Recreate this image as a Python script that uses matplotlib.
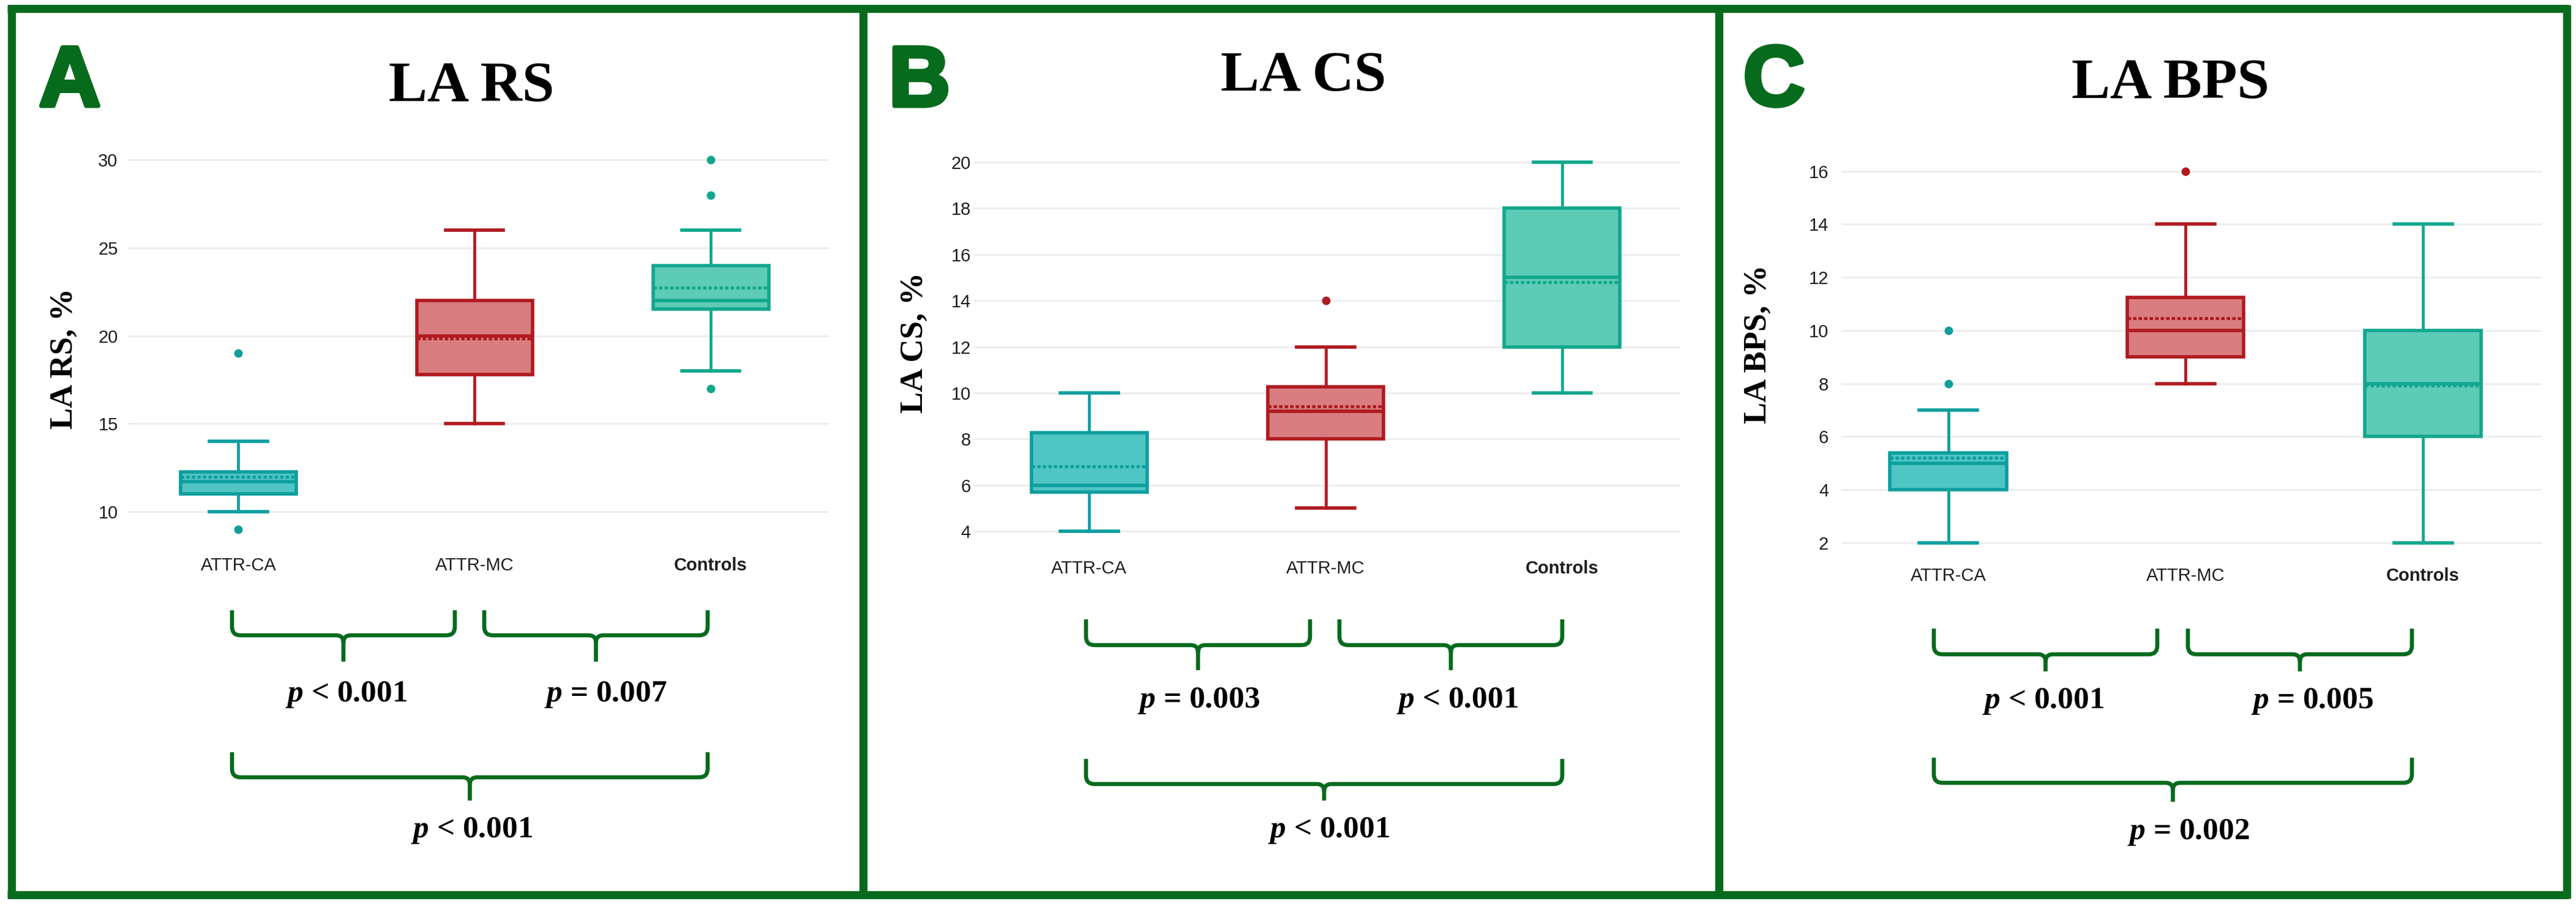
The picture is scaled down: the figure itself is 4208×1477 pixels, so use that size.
import numpy as np
import matplotlib
matplotlib.use('Agg')
import matplotlib.pyplot as plt
from matplotlib.path import Path
from matplotlib.patches import PathPatch
import matplotlib.patheffects as pe

# groups shown on every panel
groups = ['ATTR-CA', 'ATTR-MC', 'Controls']

# LA RS (panel A) box statistics
rs_lo = [10, 15, 18]
rs_q1 = [11.0, 17.8, 21.5]
rs_med = [11.7, 20.0, 22.0]
rs_q3 = [12.25, 22.0, 24.0]
rs_hi = [14, 26, 26]
rs_mean = [12.0, 19.85, 22.75]
rs_out = [[19, 9], [], [30, 28, 17]]
rs_ticks = [10, 15, 20, 25, 30]
rs_p = ['< 0.001', '= 0.007', '< 0.001']

# LA CS (panel B)
cs_lo = [4, 5, 10]
cs_q1 = [5.7, 8.0, 12.0]
cs_med = [6.0, 9.2, 15.0]
cs_q3 = [8.27, 10.27, 18.0]
cs_hi = [10, 12, 20]
cs_mean = [6.8, 9.4, 14.8]
cs_out = [[], [14], []]
cs_ticks = [4, 6, 8, 10, 12, 14, 16, 18, 20]
cs_p = ['= 0.003', '< 0.001', '< 0.001']

# LA BPS (panel C)
bps_lo = [2, 8, 2]
bps_q1 = [4.0, 9.0, 6.0]
bps_med = [5.0, 10.0, 8.0]
bps_q3 = [5.4, 11.25, 10.0]
bps_hi = [7, 14, 14]
bps_mean = [5.2, 10.45, 7.92]
bps_out = [[10, 8], [16], []]
bps_ticks = [2, 4, 6, 8, 10, 12, 14, 16]
bps_p = ['< 0.001', '= 0.005', '= 0.002']

W, H = 4208, 1477
green = '#066b1d'
edge_cols = ['#0e9e9e', '#b01a20', '#12a78c']
fill_cols = ['#4fc5c4', '#d97d80', '#5ecbb7']

plt.rcParams['mathtext.fontset'] = 'custom'
plt.rcParams['mathtext.it'] = 'Liberation Serif:italic:bold'
plt.rcParams['mathtext.rm'] = 'Liberation Serif:bold'

fig = plt.figure(figsize=(W / 100, H / 100), dpi=100)
fig.patch.set_facecolor('white')

# overlay in pixel coordinates for frames, titles, brackets
ov = fig.add_axes([0, 0, 1, 1])
ov.set_xlim(0, W)
ov.set_ylim(H, 0)
ov.axis('off')

# green frames
bw = 9.5
for y in [14, 1462]:
    ov.plot([12, 4196], [y, y], color=green, lw=bw, solid_capstyle='butt')
for x in [19, 1410, 2808, 4193]:
    ov.plot([x, x], [8, 1468], color=green, lw=bw, solid_capstyle='butt')


def brace(x0, x1, ytop, yh, ytip):
    xc = (x0 + x1) / 2
    r, c = 14, 12
    verts = [(x0, ytop), (x0, yh - r), (x0, yh), (x0 + r, yh),
             (xc - c, yh), (xc, yh), (xc, yh + c), (xc, ytip),
             (xc, yh + c), (xc, yh), (xc + c, yh),
             (x1 - r, yh), (x1, yh), (x1, yh - r), (x1, ytop)]
    codes = [Path.MOVETO, Path.LINETO, Path.CURVE3, Path.CURVE3,
             Path.LINETO, Path.CURVE3, Path.CURVE3, Path.LINETO,
             Path.MOVETO, Path.CURVE3, Path.CURVE3,
             Path.LINETO, Path.CURVE3, Path.CURVE3, Path.LINETO]
    ov.add_patch(PathPatch(Path(verts, codes), fill=False, edgecolor=green,
                           lw=4.8, capstyle='butt', joinstyle='round'))


panels = [
    dict(letter='A', title='LA RS', ylabel='LA RS, %',
         lo=rs_lo, q1=rs_q1, med=rs_med, q3=rs_q3, hi=rs_hi, mean=rs_mean, out=rs_out,
         ticks=rs_ticks, p=rs_p, box=(208, 1354, 218, 893.5), ylim=(8, 31.5), xlim=(-0.47, 2.50),
         ypad=11, letter_xy=(114, 173), title_xy=(770, 165), ylab_xy=(105, 586),
         braces=[(379, 743, 997, 1038, 1081), (791, 1156, 997, 1038, 1081), (379, 1156, 1229, 1270, 1308)],
         p_xy=[(566, 1146), (989, 1146), (771, 1368)]),
    dict(letter='B', title='LA CS', ylabel='LA CS, %',
         lo=cs_lo, q1=cs_q1, med=cs_med, q3=cs_q3, hi=cs_hi, mean=cs_mean, out=cs_out,
         ticks=cs_ticks, p=cs_p, box=(1590, 2745, 235, 898), ylim=(3.2, 20.8), xlim=(-0.49, 2.50),
         ypad=3, letter_xy=(1502, 173), title_xy=(2129, 148), ylab_xy=(1494, 560),
         braces=[(1774, 2140, 1012, 1054, 1095), (2188, 2552, 1012, 1054, 1095), (1774, 2552, 1240, 1281, 1308)],
         p_xy=[(1958, 1156), (2381, 1156), (2171, 1368)]),
    dict(letter='C', title='LA BPS', ylabel='LA BPS, %',
         lo=bps_lo, q1=bps_q1, med=bps_med, q3=bps_q3, hi=bps_hi, mean=bps_mean, out=bps_out,
         ticks=bps_ticks, p=bps_p, box=(3008, 4152, 245, 910), ylim=(1.47, 16.8), xlim=(-0.45, 2.50),
         ypad=15, letter_xy=(2898, 172), title_xy=(3545, 160), ylab_xy=(2872, 562),
         braces=[(3159, 3524, 1027, 1069, 1097), (3574, 3940, 1027, 1069, 1097), (3159, 3940, 1238, 1279, 1310)],
         p_xy=[(3338, 1157), (3777, 1157), (3575, 1371)]),
]

for pn in panels:
    l, r, t, b = pn['box']
    ax = fig.add_axes([l / W, 1 - b / H, (r - l) / W, (b - t) / H])
    ax.patch.set_visible(False)

    stats = []
    for i in range(3):
        stats.append(dict(whislo=pn['lo'][i], q1=pn['q1'][i], med=pn['med'][i],
                          q3=pn['q3'][i], whishi=pn['hi'][i], mean=pn['mean'][i],
                          fliers=pn['out'][i]))
    art = ax.bxp(stats, positions=[0, 1, 2], widths=0.49, patch_artist=True,
                 showmeans=True, meanline=True, showfliers=True)
    for i in range(3):
        ec, fc = edge_cols[i], fill_cols[i]
        art['boxes'][i].set(facecolor=fc, edgecolor=ec, linewidth=4.0, zorder=3)
        art['medians'][i].set(color=ec, linewidth=4.0, zorder=4)
        art['means'][i].set(color=ec, linewidth=3.6, linestyle=(0, (1.1, 0.7)), zorder=4)
        for k in (2 * i, 2 * i + 1):
            art['whiskers'][k].set(color=ec, linewidth=3.4, zorder=2)
            art['caps'][k].set(color=ec, linewidth=4.0, zorder=2)
        art['fliers'][i].set(marker='o', markersize=10, markerfacecolor=ec,
                             markeredgecolor='none', zorder=4)

    ax.set_xlim(*pn['xlim'])
    ax.set_ylim(*pn['ylim'])
    ax.set_yticks(pn['ticks'])
    ax.set_yticklabels([str(v) for v in pn['ticks']], fontsize=21,
                       family='Liberation Sans', color='#1e1e1e')
    ax.set_xticks([0, 1, 2])
    ax.set_xticklabels(groups, fontsize=21, family='Liberation Sans', color='#1e1e1e')
    ax.get_xticklabels()[2].set_fontweight('bold')
    ax.tick_params(axis='both', length=0)
    ax.tick_params(axis='y', pad=pn['ypad'])
    ax.tick_params(axis='x', pad=12)
    ax.grid(axis='y', color='#ececec', linewidth=2)
    ax.set_axisbelow(True)
    for s in ax.spines.values():
        s.set_visible(False)

    # panel letter, title and y label
    ov.text(*pn['letter_xy'], pn['letter'], ha='center', va='baseline', fontsize=100,
            fontweight='bold', family='Liberation Sans', color=green,
            path_effects=[pe.withStroke(linewidth=5, foreground=green)])
    ov.text(*pn['title_xy'], pn['title'], ha='center', va='baseline', fontsize=68,
            fontweight='bold', family='Liberation Serif', color='black')
    ov.text(*pn['ylab_xy'], pn['ylabel'], ha='center', va='center', rotation=90,
            fontsize=38, fontweight='bold', family='Liberation Serif', color='black')

    for bx in pn['braces']:
        brace(*bx)
    for (px, py), txt in zip(pn['p_xy'], pn['p']):
        ov.text(px, py, r'$p$ ' + txt, ha='center', va='baseline', fontsize=37,
                fontweight='bold', family='Liberation Serif', color='black')

fig.savefig('out.png', dpi=100, facecolor='white')
